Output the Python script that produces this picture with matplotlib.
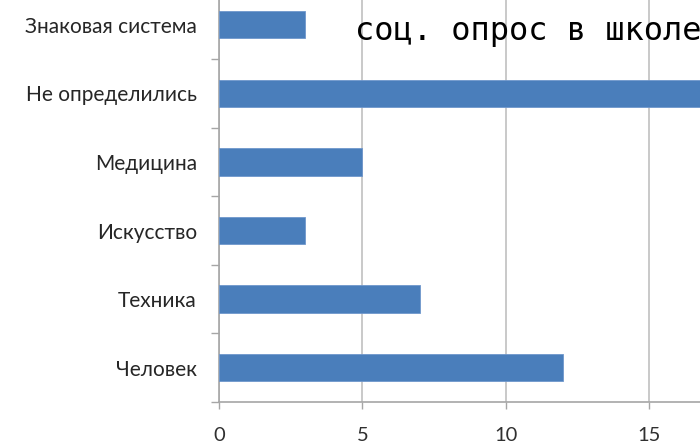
import matplotlib.pyplot as plt
import numpy as np

categories = ["Человек", "Техника", "Искусство", "Медицина", "Не определились", "Знаковая система"]
values = [12, 7, 3, 5, 18, 3]
x_ticks = [0, 5, 10, 15]

bar_color = "#4a7ebb"
grid_color = "#a6a6a6"

fig = plt.figure(figsize=(7, 4.44), dpi=100)
ax = fig.add_axes([219 / 700, 42 / 444, 1 - 219 / 700, 411.6 / 444])

y = np.arange(len(categories))
ax.barh(y, values, height=0.4, color=bar_color, edgecolor="#6f97cc", linewidth=0.6, zorder=3)

ax.set_xlim(0, 16.76)
ax.set_ylim(-0.5, len(categories) - 0.5)

ax.set_xticks(x_ticks)
ax.set_xticklabels([str(t) for t in x_ticks], fontsize=14.5, color="#303030", family="Lato")
ax.tick_params(axis="x", length=5, color=grid_color, width=1, pad=13)
ax.xaxis.grid(True, color="#c0c0c0", linewidth=1.2, zorder=0)

ax.set_yticks(y)
ax.set_yticklabels(categories, fontsize=15, color="#262626", family="Lato")
ax.tick_params(axis="y", length=0, pad=16)
ax.set_yticks(np.arange(-0.5, len(categories)), minor=True)
ax.tick_params(axis="y", which="minor", length=6, color=grid_color, width=1)

for side in ["top", "right"]:
    ax.spines[side].set_visible(False)
for side in ["left", "bottom"]:
    ax.spines[side].set_color(grid_color)
    ax.spines[side].set_linewidth(1.2)

fig.text(355 / 700, 1 - 40 / 444, "соц. опрос в школе", family="DejaVu Sans Mono",
         fontsize=23, color="black", ha="left", va="baseline")

fig.savefig("out.png", dpi=100)
